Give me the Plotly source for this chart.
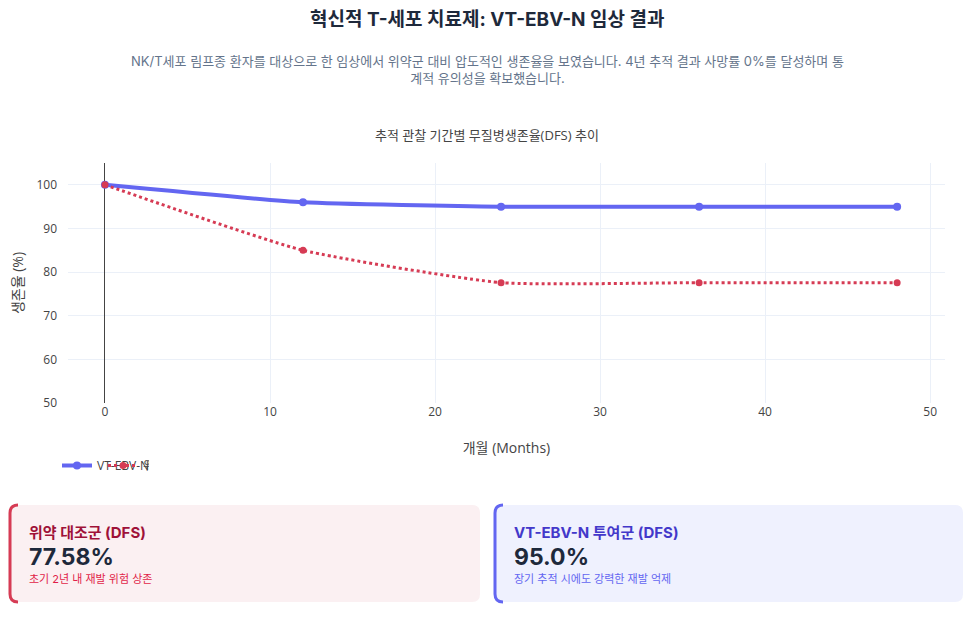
import plotly.graph_objects as go

months = [0, 12, 24, 36, 48]
vt_ebv_n = [100, 96, 95, 95, 95]
placebo = [100, 85, 77.58, 77.58, 77.58]
series_names = ["VT-EBV-N 투여군", "위약 대조군"]

W, H = 975, 617
OFF = 8  # page body margin
L, R, T, B = 68 - OFF, 30 + OFF, 163 - OFF, 214 + OFF
PW, PH = W - L - R, H - T - B

def px(x):
    return (x - OFF - L) / PW

def py(y):
    return (H - B - (y - OFF)) / PH

FONT = "Open Sans, Noto Sans CJK KR, sans-serif"
CFONT = "Inter, Noto Sans CJK KR, sans-serif"

fig = go.Figure()
fig.add_trace(go.Scatter(
    x=months, y=vt_ebv_n, name=series_names[0], mode="lines+markers",
    line=dict(color="#6366f1", width=4, shape="spline", smoothing=0.5),
    marker=dict(size=8, color="#6366f1"),
))
fig.add_trace(go.Scatter(
    x=months, y=placebo, name=series_names[1], mode="lines+markers",
    line=dict(color="#d63b54", width=3, dash="dot", shape="spline", smoothing=0.5),
    marker=dict(size=7, color="#d63b54"),
))

def card(x0, x1, y0, y1, bg, border, r=8):
    rx = r / PW
    ry = r / PH
    X0, X1, Y0, Y1 = px(x0), px(x1), py(y1), py(y0)
    path = (f"M {X0+rx} {Y0} L {X1-rx} {Y0} Q {X1} {Y0} {X1} {Y0+ry} "
            f"L {X1} {Y1-ry} Q {X1} {Y1} {X1-rx} {Y1} L {X0+rx} {Y1} "
            f"Q {X0} {Y1} {X0} {Y1-ry} L {X0} {Y0+ry} Q {X0} {Y0} {X0+rx} {Y0} Z")
    fig.add_shape(type="path", path=path, xref="paper", yref="paper",
                  fillcolor=bg, line=dict(width=0), layer="below")
    bpath = (f"M {X0+rx} {Y0} Q {X0} {Y0} {X0} {Y0+ry} L {X0} {Y1-ry} "
             f"Q {X0} {Y1} {X0+rx} {Y1}")
    fig.add_shape(type="path", path=bpath, xref="paper", yref="paper",
                  line=dict(color=border, width=3))

card(10, 480, 505, 602, "#fbf0f2", "#d63b54")
card(495, 963, 505, 602, "#eff1fe", "#6366f1")

def text(x, y, s, size, color, bold=False, xanchor="left", family=CFONT):
    if bold:
        s = f"<b>{s}</b>"
    fig.add_annotation(x=px(x), y=py(y), xref="paper", yref="paper", text=s,
                       showarrow=False, xanchor=xanchor, yanchor="middle",
                       font=dict(size=size, color=color, family=family))

text(27, 532, "위약 대조군 (DFS)", 15, "#9f1239", True)
text(27, 557, "77.58%", 23, "#1e293b", True)
text(27, 579, "초기 2년 내 재발 위험 상존", 11, "#e11d48")
text(512, 532, "VT-EBV-N 투여군 (DFS)", 15, "#4338ca", True)
text(512, 557, "95.0%", 23, "#1e293b", True)
text(512, 579, "장기 추적 시에도 강력한 재발 억제", 11, "#6366f1")

text(487, 20, "혁신적 T-세포 치료제: VT-EBV-N 임상 결과", 19, "#1e293b", True, "center")
text(487, 69, "NK/T세포 림프종 환자를 대상으로 한 임상에서 위약군 대비 압도적인 생존율을 보였습니다. 4년 추적 결과 사망률 0%를 달성하며 통<br>계적 유의성을 확보했습니다.", 13, "#64748b", False, "center")
text(487, 135, "추적 관찰 기간별 무질병생존율(DFS) 추이", 13, "#444", False, "center", FONT)

fig.update_layout(
    width=W, height=H, template="plotly_white",
    margin=dict(l=L, r=R, t=T, b=B, autoexpand=False),
    font=dict(family=FONT, size=12, color="#444"),
    paper_bgcolor="white", plot_bgcolor="white",
    xaxis=dict(range=[-2.24, 50.9], dtick=10, zeroline=True, zerolinecolor="#444",
               zerolinewidth=1, gridcolor="#EBF0F8", automargin=False,
               title=dict(text="개월 (Months)", font=dict(size=14), standoff=24)),
    yaxis=dict(range=[50, 105], dtick=10, zeroline=False, gridcolor="#EBF0F8",
               automargin=False, ticklabelstandoff=10,
               title=dict(text="생존율 (%)", font=dict(size=14), standoff=12)),
    legend=dict(orientation="h", x=px(57), y=py(451), xanchor="left", yanchor="top",
                entrywidth=1, entrywidthmode="pixels", font=dict(size=12)),
)

fig.write_html("out.html")
